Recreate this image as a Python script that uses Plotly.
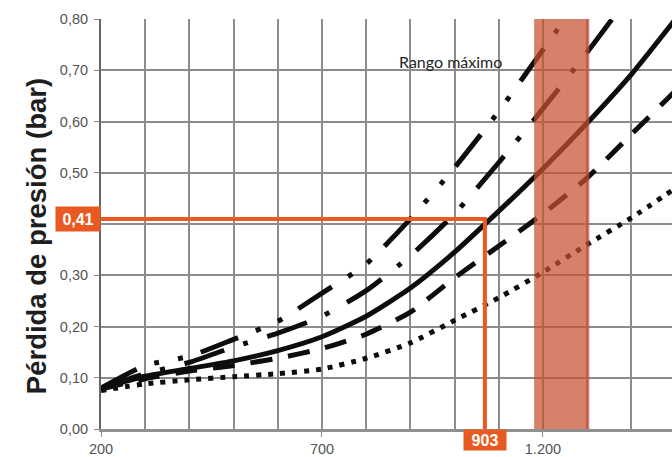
import plotly.graph_objects as go

# Caudal (eje X) y pérdidas de presión (bar) para cada curva
caudal = [200, 300, 400, 500, 600, 700, 800, 900, 1000, 1100, 1200, 1300, 1400, 1500]

perdida_raya_punto_punto = [0.080, 0.124, 0.142, 0.175, 0.210, 0.265, 0.322, 0.410, 0.510, 0.620, 0.740, 0.860]
perdida_raya_punto = [0.080, 0.108, 0.130, 0.160, 0.187, 0.220, 0.270, 0.338, 0.420, 0.520, 0.625, 0.735, 0.850]
perdida_continua = [0.080, 0.103, 0.118, 0.133, 0.153, 0.180, 0.220, 0.275, 0.345, 0.425, 0.508, 0.597, 0.692, 0.800]
perdida_discontinua = [0.078, 0.098, 0.113, 0.124, 0.138, 0.157, 0.185, 0.228, 0.295, 0.357, 0.420, 0.490, 0.575, 0.660]
perdida_punteada = [0.075, 0.088, 0.096, 0.102, 0.108, 0.117, 0.138, 0.168, 0.212, 0.256, 0.306, 0.360, 0.412, 0.470]

# Lectura de ejemplo
lectura_caudal = 903
lectura_perdida = 0.41
lectura_caudal_txt = "903"
lectura_perdida_txt = "0,41"

# Banda del rango máximo
rango_maximo = [1180, 1305]
rango_txt = "Rango máximo"

# Ejes
x_ticks = [200, 700, 1200]
x_ticktext = ["200", "700", "1.200"]
y_ticks = [0.0, 0.1, 0.2, 0.3, 0.4, 0.5, 0.6, 0.7, 0.8]
y_ticktext = ["0,00", "0,10", "0,20", "0,30", "", "0,50", "0,60", "0,70", "0,80"]
x_range = [200, 1492]
y_range = [0, 0.8]
# escala de la lectura (unidad secundaria respecto al eje principal)
escala_lectura = 0.845

NARANJA = "#E95A22"
NEGRO = "#0d0d0d"
GRIS = "#8c8c8c"

fig = go.Figure()

# Líneas de lectura (eje secundario superpuesto)
x2_range = [x_range[0] * escala_lectura, x_range[1] * escala_lectura]
fig.add_trace(go.Scatter(
    x=[x2_range[0], lectura_caudal, lectura_caudal],
    y=[lectura_perdida, lectura_perdida, 0],
    xaxis="x2", yaxis="y", mode="lines",
    line=dict(color=NARANJA, width=4), hoverinfo="skip"))

curvas = [
    (perdida_punteada, "5px,7px"),
    (perdida_discontinua, "22px,16px"),
    (perdida_continua, "solid"),
    (perdida_raya_punto, "42px,20px,5px,20px"),
    (perdida_raya_punto_punto, "40px,19px,5px,19px,5px,19px"),
]
for valores, trazo in curvas:
    fig.add_trace(go.Scatter(
        x=caudal[:len(valores)], y=valores, mode="lines",
        line=dict(color=NEGRO, width=5, dash=trazo, shape="spline", smoothing=0.6),
        hoverinfo="skip"))

# Caja blanca tras el texto del rango
fig.add_shape(type="rect", xref="x", yref="paper", layer="between",
              x0=818, x1=rango_maximo[0], y0=(432 - 88) / 413, y1=(432 - 26) / 413,
              fillcolor="white", line=dict(width=0))
# Banda sombreada del rango máximo
fig.add_shape(type="rect", xref="x", yref="paper", layer="above",
              x0=rango_maximo[0], x1=rango_maximo[1], y0=0, y1=1,
              fillcolor="rgba(200,80,50,0.72)", line=dict(width=0))

fig.add_annotation(text=rango_txt, xref="x", yref="y", x=990, y=0.718,
                   showarrow=False, font=dict(family="Lato", size=16, color="#262626"))

fig.add_annotation(text="<b>Pérdida de presión (bar)</b>", textangle=-90,
                   xref="paper", yref="paper", x=-0.114, y=0.47,
                   xanchor="center", yanchor="middle",
                   showarrow=False, font=dict(family="Liberation Sans", size=27.5, color="#1e1e1e"))

fig.add_annotation(text="<b>" + lectura_perdida_txt + "</b>", xref="paper", yref="y",
                   x=0, y=lectura_perdida, xanchor="right", yanchor="middle", showarrow=False,
                   bgcolor=NARANJA, borderpad=3, width=38, height=18,
                   font=dict(family="Liberation Sans", size=16, color="white"))
fig.add_annotation(text="<b>" + lectura_caudal_txt + "</b>", xref="x2", yref="paper",
                   x=lectura_caudal, y=0, xanchor="center", yanchor="top", showarrow=False,
                   bgcolor=NARANJA, borderpad=2, width=38, height=16,
                   font=dict(family="Liberation Sans", size=16, color="white"))

fig.update_layout(
    width=672, height=457,
    margin=dict(l=101, r=0, t=19, b=25),
    paper_bgcolor="white", plot_bgcolor="white",
    showlegend=False,
    xaxis=dict(range=x_range, tickvals=x_ticks, ticktext=x_ticktext,
               showgrid=True, gridcolor=GRIS, gridwidth=1.5,
               minor=dict(dtick=100, tick0=200, showgrid=True, gridcolor=GRIS, gridwidth=1.5),
               ticks="outside", ticklen=5, tickcolor=GRIS,
               showline=True, linecolor="#8f8f8f", linewidth=3,
               zeroline=False,
               tickfont=dict(family="Liberation Sans", size=14.5, color="#555555")),
    xaxis2=dict(range=x2_range, overlaying="x", anchor="y", visible=False),
    yaxis=dict(range=y_range, tickvals=y_ticks, ticktext=y_ticktext,
               showgrid=True, gridcolor=GRIS, gridwidth=1.5,
               ticks="outside", ticklen=5, tickcolor=GRIS, ticklabelstandoff=3,
               showline=True, linecolor="#666666", linewidth=2,
               zeroline=False,
               tickfont=dict(family="Liberation Sans", size=14.5, color="#555555")),
)

fig.write_html("out.html")
